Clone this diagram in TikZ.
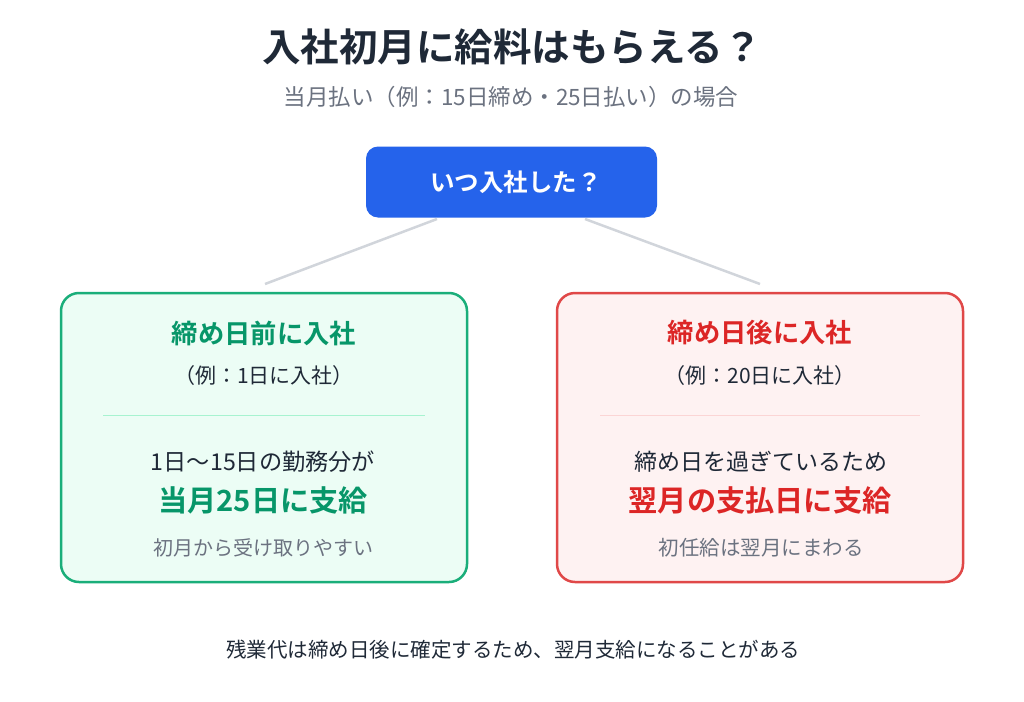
\documentclass[tikz,border=0pt]{standalone}
\usepackage{fontspec}
\setmainfont{Noto Sans CJK JP}[BoldFont={Noto Sans CJK JP Bold}]
\definecolor{titlec}{HTML}{1F2937}
\definecolor{subc}{HTML}{6B7280}
\definecolor{bluec}{HTML}{2563EB}
\definecolor{linec}{HTML}{D1D5DB}
\definecolor{gborder}{HTML}{1AAE7A}
\definecolor{gtext}{HTML}{079669}
\definecolor{gfill}{HTML}{ECFDF5}
\definecolor{gsep}{HTML}{A7F3D0}
\definecolor{rborder}{HTML}{E04848}
\definecolor{rtext}{HTML}{DC2626}
\definecolor{rfill}{HTML}{FEF2F2}
\definecolor{rsep}{HTML}{FBD5D5}
\definecolor{darkc}{HTML}{1F2937}
\newcommand{\fs}[1]{\fontsize{#1}{#1}\selectfont}
\begin{document}
\begin{tikzpicture}[x=1pt,y=-1pt,
  txt/.style={inner sep=0pt,anchor=center},
  card/.style={draw,line width=2.5pt,rounded corners=18pt,minimum width=406pt,minimum height=289pt,inner sep=0pt},
  conn/.style={draw=linec,line width=2.5pt},
  sep/.style={line width=1pt}]
\useasboundingbox (0,0) rectangle (1024,701);
\fill[white] (0,0) rectangle (1024,701);
% title
\node[txt,text=titlec] (title) at (512,47) {\fs{38.5}\bfseries 入社初月に給料はもらえる？};
\node[txt,text=subc] (sub) at (511,97) {\fs{22.5}当月払い（例：15日締め・25日払い）の場合};
% top node
\node[fill=bluec,rounded corners=12pt,minimum width=291pt,minimum height=71pt,inner sep=0pt] (top) at (511.5,182) {};
\node[txt,text=white] (toptxt) at (516,182) {\fs{24.5}\bfseries いつ入社した？};
% connectors
\coordinate (lA) at (437,219);
\coordinate (lB) at (265,284);
\coordinate (rA) at (585,219);
\coordinate (rB) at (760,284);
\draw[conn] (lA) -- (lB);
\draw[conn] (rA) -- (rB);
% left card
\node[card,draw=gborder,fill=gfill] (left) at (264,437.5) {};
\node[txt,text=gtext] (lt) at (264,333) {\fs{26.3}\bfseries 締め日前に入社};
\node[txt,text=darkc] (le) at (264,376) {\fs{21}（例：1日に入社）};
\coordinate (ls1) at (103,415);
\coordinate (ls2) at (425,415);
\draw[sep,draw=gsep] (ls1) -- (ls2);
\node[txt,text=darkc] (l1) at (263,462) {\fs{23.2}1日〜15日の勤務分が};
\node[txt,text=gtext] (l2) at (263,500) {\fs{29.2}\bfseries 当月25日に支給};
\node[txt,text=subc] (l3) at (263,548) {\fs{20}初月から受け取りやすい};
% right card
\node[card,draw=rborder,fill=rfill] (right) at (760,437.5) {};
\node[txt,text=rtext] (rt) at (760,333) {\fs{26.3}\bfseries 締め日後に入社};
\node[txt,text=darkc] (re) at (760,376) {\fs{21}（例：20日に入社）};
\coordinate (rs1) at (600,415);
\coordinate (rs2) at (920,415);
\draw[sep,draw=rsep] (rs1) -- (rs2);
\node[txt,text=darkc] (r1) at (761,462) {\fs{23}締め日を過ぎているため};
\node[txt,text=rtext] (r2) at (760,500) {\fs{29.2}\bfseries 翌月の支払日に支給};
\node[txt,text=subc] (r3) at (761,548) {\fs{20.5}初任給は翌月にまわる};
% bottom note
\node[txt,text=darkc] (note) at (513,650) {\fs{20.5}残業代は締め日後に確定するため、翌月支給になることがある};
\end{tikzpicture}
\end{document}
